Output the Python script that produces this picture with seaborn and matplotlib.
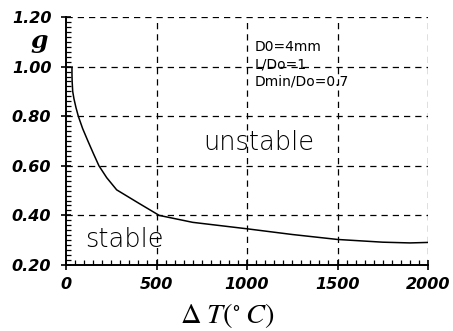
import matplotlib
matplotlib.use("Agg")
import matplotlib.pyplot as plt
import seaborn as sns
import pandas as pd
from matplotlib.ticker import MultipleLocator

sns.set_theme(style="ticks")
plt.rcParams['font.family'] = ['DejaVu Sans']
plt.rcParams['mathtext.fontset'] = 'stix'
plt.rcParams['text.color'] = 'black'

# data
delta_t = [33, 33, 34, 37, 44, 55, 68, 92, 121, 151, 182, 225, 280, 400, 515, 700, 1000, 1250, 1500, 1750, 1900, 2000]
g_vals = [1.00, 0.97, 0.94, 0.90, 0.87, 0.835, 0.80, 0.75, 0.70, 0.65, 0.60, 0.552, 0.503, 0.450, 0.40, 0.372, 0.346, 0.323, 0.303, 0.292, 0.289, 0.291]
x_ticks = [0, 500, 1000, 1500, 2000]
y_ticks = [0.20, 0.40, 0.60, 0.80, 1.00, 1.20]
x_tick_labels = ["0", "500", "1000", "1500", "2000"]
y_tick_labels = ["0.20", "0.40", "0.60", "0.80", "1.00", "1.20"]
notes = ["D0=4mm", "L/Do=1", "Dmin/Do=0.7"]

df = pd.DataFrame({"dT": delta_t, "g": g_vals})

fig = plt.figure(figsize=(4.53, 3.31), dpi=100)
ax = fig.add_axes([66/453, 1-265/331, (428-66)/453, (265-17)/331])
sns.lineplot(data=df, x="dT", y="g", ax=ax, color="black", linewidth=1.1, sort=False, estimator=None)

ax.set_xlim(0, 2000)
ax.set_ylim(0.20, 1.20)
ax.set_xticks(x_ticks)
ax.set_xticklabels(x_tick_labels)
ax.set_yticks(y_ticks)
ax.set_yticklabels(y_tick_labels)
ax.xaxis.set_minor_locator(MultipleLocator(50))
ax.yaxis.set_minor_locator(MultipleLocator(0.02))

for lab in ax.get_xticklabels() + ax.get_yticklabels():
    lab.set_fontweight("bold")
    lab.set_fontstyle("italic")
    lab.set_fontsize(11.5)
    lab.set_color("black")

ax.tick_params(which="major", direction="inout", length=7, width=1.2, color="black")
ax.tick_params(which="minor", direction="in", length=3.5, width=0.9, color="black")
ax.tick_params(axis="y", which="major", pad=7)
ax.tick_params(axis="x", which="major", pad=5)

for s in ["top", "right"]:
    ax.spines[s].set_visible(False)
for s in ["left", "bottom"]:
    ax.spines[s].set_linewidth(1.4)
    ax.spines[s].set_color("black")

for xv in x_ticks[1:]:
    ax.axvline(xv, color="black", linestyle=(0, (5, 4)), linewidth=0.9, zorder=1)
for yv in y_ticks[1:]:
    ax.axhline(yv, color="black", linestyle=(0, (5, 4)), linewidth=0.9, zorder=1)

ax.set_xlabel(r"$\Delta\;T(^{\circ}\;C)$", fontsize=20.5, color="black")
ax.xaxis.set_label_coords((227.5 - 66) / 362, (265 - 301) / 248)
ax.set_ylabel("")
fig.text(39/453, 1-41/331, "g", fontsize=18, fontweight="bold", fontstyle="italic",
         family="DejaVu Serif", ha="center", va="center")

ax.text(757, 0.665, "unstable", fontsize=18.5, fontweight=200, va="baseline", ha="left", color="black")
ax.text(105, 0.273, "stable", fontsize=18.5, fontweight=200, va="baseline", ha="left", color="black")
for txt, yy in zip(notes, [1.063, 0.992, 0.922]):
    ax.text(1044, yy, txt, fontsize=10, va="baseline", ha="left", color="black")

ax.set_facecolor("white")
fig.savefig("out.png", dpi=100, facecolor="white")
